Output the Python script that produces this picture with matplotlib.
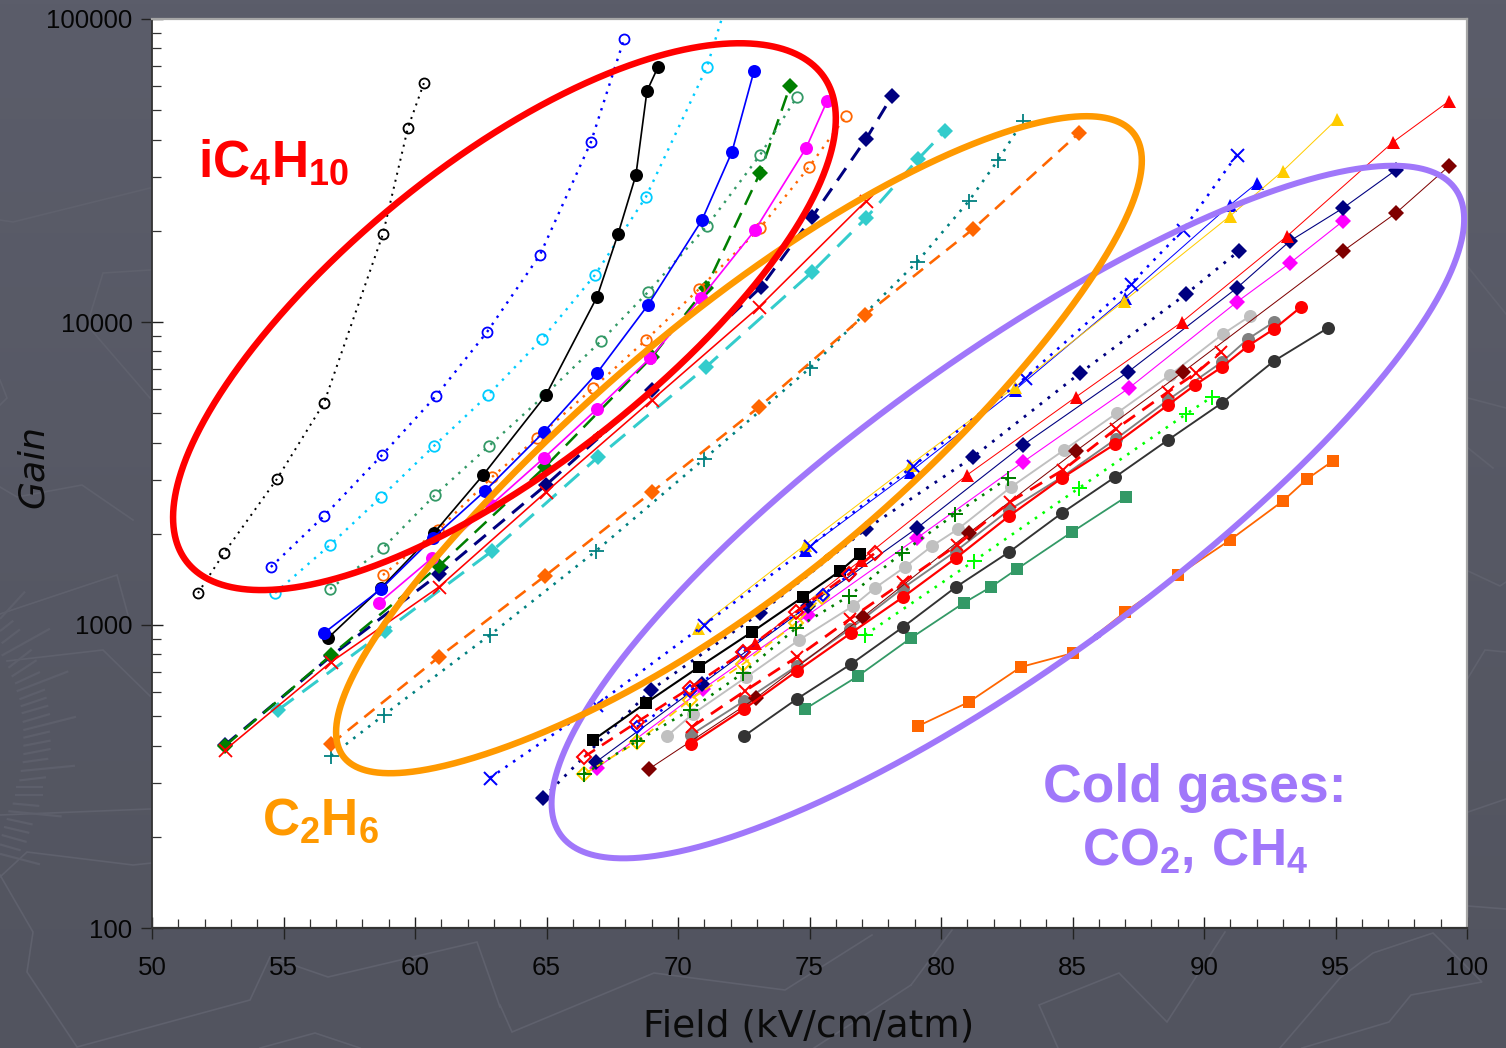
import numpy as np
import matplotlib
matplotlib.use("Agg")
import matplotlib.pyplot as plt
from matplotlib.ticker import FixedLocator, NullFormatter, FixedFormatter

W, H = 1506, 1048

# ---------- data: Field (kV/cm/atm) and Gain ----------
a_x = [51.75, 52.74, 54.75, 56.54, 58.78, 59.73, 60.34]
a_y = [1275, 1729, 3033, 5404, 19510, 43690, 61500]
b_x = [54.52, 56.54, 58.75, 60.80, 62.74, 64.75, 66.69, 67.95]
b_y = [1554, 2289, 3640, 5700, 9270, 16640, 39260, 85900]
c_x = [54.68, 56.77, 58.71, 60.72, 62.78, 64.83, 66.84, 68.78, 71.10, 71.79]
c_y = [1275, 1837, 2645, 3897, 5741, 8790, 14290, 25860, 69420, 108800]
d_x = [56.77, 58.78, 60.76, 62.81, 64.94, 67.07, 68.86, 71.10, 73.12, 74.52]
d_y = [1315, 1795, 2685, 3897, 5741, 8655, 12560, 20740, 35580, 55280]
e_x = [58.78, 60.87, 62.93, 64.64, 66.77, 68.78, 70.80, 73.12, 74.98, 76.39]
e_y = [1462, 2058, 3079, 4142, 6054, 8720, 12850, 20430, 32480, 47860]
f_x = [56.69, 58.71, 60.72, 62.59, 64.98, 66.92, 67.72, 68.40, 68.82, 69.24]
f_y = [906, 1325, 2012, 3126, 5741, 12090, 19510, 30560, 57860, 69420]
g_x = [56.54, 58.71, 60.68, 62.66, 64.90, 66.92, 68.86, 70.91, 72.05, 72.89]
g_y = [941, 1315, 1937, 2769, 4335, 6785, 11380, 21700, 36400, 67340]
h_x = [58.63, 60.65, 62.89, 64.90, 66.92, 68.94, 70.87, 72.93, 74.87, 75.67]
h_y = [1183, 1664, 2489, 3557, 5163, 7606, 12000, 20120, 37510, 53620]
i_x = [52.78, 56.81, 60.91, 64.94, 69.01, 71.06, 73.12, 74.26]
i_y = [399, 796, 1566, 3322, 7664, 12950, 31020, 60100]
j_x = [52.78, 56.81, 60.91, 64.98, 69.01, 73.16, 75.10, 77.15, 78.14]
j_y = [402, 790, 1473, 2897, 5963, 13050, 22200, 40180, 55690]
k_x = [52.78, 56.81, 60.91, 64.98, 69.01, 73.08, 77.15]
k_y = [387, 755, 1335, 2748, 5528, 11210, 25080]
l_x = [54.79, 58.86, 62.93, 66.96, 71.06, 75.10, 77.15, 79.13, 80.15]
l_y = [524, 955, 1755, 3584, 7100, 14620, 22040, 34510, 42700]
m_x = [56.81, 60.91, 64.94, 69.01, 73.08, 77.11, 81.22, 85.25]
m_y = [405, 784, 1451, 2748, 5241, 10550, 20270, 42050]
n_x = [56.81, 58.82, 62.85, 66.88, 70.99, 75.02, 79.09, 81.06, 82.17, 83.12]
n_y = [370, 505, 927, 1755, 3531, 7050, 15780, 25080, 34240, 46050]
o_x = [62.85, 66.88, 70.99, 75.02, 78.94, 83.19, 87.22, 89.20, 91.25]
o_y = [313, 544, 1000, 1823, 3347, 6534, 13350, 20120, 35580]
p_x = [74.83, 78.82, 82.81, 86.99, 90.99, 92.02]
p_y = [1769, 3198, 5963, 12000, 24320, 28760]
q_x = [70.76, 74.83, 78.82, 82.81, 86.96, 90.99, 93.00, 95.06]
q_y = [977, 1837, 3373, 6103, 11730, 22380, 31510, 46770]
r_x = [66.43, 68.44, 70.46, 72.47, 74.49, 75.48]
r_y = [322, 411, 566, 743, 1015, 1237]
s_x = [66.43, 68.44, 70.46, 72.47, 74.49, 76.50, 78.52, 80.53, 82.55]
s_y = [322, 414, 524, 694, 977, 1246, 1729, 2324, 3057]
t_x = [77.11, 81.25, 85.25, 89.32, 90.30]
t_y = [927, 1626, 2832, 4969, 5655]
u_x = [66.77, 68.78, 70.80, 72.81, 74.75, 76.16, 76.92]
u_y = [417, 553, 727, 948, 1237, 1507, 1716]
v_x = [66.43, 68.44, 70.46, 72.47, 74.49, 76.50, 77.49]
v_y = [367, 478, 620, 814, 1104, 1473, 1729]
w_x = [68.44, 70.46, 72.47, 75.51, 76.50]
w_y = [461, 606, 814, 1256, 1462]
aa_x = [72.93, 76.96, 80.99, 85.13, 89.16, 93.16, 97.19, 99.32]
aa_y = [872, 1638, 3126, 5655, 10000, 19220, 39260, 53620]
ab_x = [64.87, 68.97, 73.12, 77.15, 81.22, 85.29, 89.32, 91.33]
ab_y = [269, 610, 1095, 2074, 3584, 6785, 12370, 17150]
ac_x = [66.88, 70.91, 74.94, 79.09, 83.12, 87.11, 91.25, 93.27, 95.29, 97.30]
ac_y = [353, 639, 1155, 2090, 3927, 6839, 12950, 18510, 23780, 31750]
ad_x = [66.92, 70.95, 74.94, 79.09, 83.12, 87.15, 91.25, 93.27, 95.29]
ad_y = [337, 615, 1079, 1937, 3451, 6056, 11640, 15650, 21540]
ae_x = [68.90, 72.97, 77.03, 81.06, 85.13, 89.20, 95.29, 97.30, 99.32]
ae_y = [335, 574, 1063, 2012, 3751, 6839, 17150, 22890, 32720]
af_x = [69.58, 70.57, 72.59, 74.60, 76.65, 77.49, 78.63, 79.66, 80.65, 82.66, 84.68, 86.69, 88.71, 90.72, 91.75]
af_y = [430, 509, 673, 892, 1155, 1325, 1554, 1823, 2074, 2853, 3780, 5006, 6686, 9130, 10460]
ag_x = [70.49, 72.51, 74.52, 76.54, 78.56, 80.57, 82.59, 84.60, 86.65, 88.63, 90.68, 91.67, 92.66]
ag_y = [434, 561, 732, 970, 1325, 1755, 2396, 3079, 4110, 5528, 7379, 8790, 10000]
ah_x = [70.53, 72.55, 74.52, 76.54, 78.56, 80.61, 82.62, 84.64, 86.65, 88.63, 89.70, 90.65]
ah_y = [461, 606, 784, 1047, 1387, 1837, 2547, 3247, 4436, 5875, 6785, 7962]
ai_x = [70.49, 72.51, 74.52, 76.58, 78.56, 80.57, 82.59, 84.60, 86.62, 88.63, 89.66, 90.68, 91.67, 92.66, 93.69]
ai_y = [405, 528, 705, 941, 1237, 1664, 2289, 3057, 3957, 5322, 6196, 7100, 8333, 9482, 11210]
aj_x = [72.51, 74.52, 76.58, 78.56, 80.57, 82.59, 84.60, 86.62, 88.63, 90.68, 92.66, 94.71]
aj_y = [430, 570, 743, 985, 1335, 1741, 2342, 3079, 4079, 5404, 7434, 9554]
ak_x = [74.83, 76.84, 78.86, 80.87, 81.90, 82.89, 84.98, 87.03]
ak_y = [528, 678, 906, 1183, 1335, 1530, 2027, 2645]
al_x = [79.13, 81.06, 83.04, 85.02, 87.00, 89.01, 90.99, 93.00, 93.92, 94.90]
al_y = [464, 557, 727, 808, 1104, 1462, 1908, 2566, 3033, 3478]

x_ticks = [50, 55, 60, 65, 70, 75, 80, 85, 90, 95, 100]
y_ticks = [100, 1000, 10000, 100000]
y_labels = ["100", "1000", "10000", "100000"]

# ---------- styling ----------
DOT = (0, (1.0, 2.6))
DASH = (0, (5.0, 3.2))
DASHL = (0, (6.5, 3.6))

ORANGE = "#FF6600"; SEA = "#339966"; CYAN = "#00CCFF"; NAVY = "#000080"
TURQ = "#33CCCC"; TEAL = "#008080"; GOLD = "#FFCC00"; GREEN = "#007F00"
MAROON = "#7F0000"

plt.rcParams["font.family"] = ["Liberation Sans", "DejaVu Sans"]
plt.rcParams["mathtext.fontset"] = "custom"
plt.rcParams["mathtext.rm"] = "Liberation Sans:bold"
plt.rcParams["mathtext.it"] = "Liberation Sans:bold"
plt.rcParams["mathtext.bf"] = "Liberation Sans:bold"

fig = plt.figure(figsize=(W / 100, H / 100), dpi=100)

# slide background
bg = fig.add_axes([0, 0, 1, 1], zorder=-5)
bg.imshow(np.linspace(0, 1, 256)[:, None], aspect="auto", extent=[0, W, H, 0],
          cmap=matplotlib.colors.LinearSegmentedColormap.from_list("bgc", ["#5B5D6A", "#52545F"]))
bg.set_xlim(0, W); bg.set_ylim(H, 0); bg.axis("off")

deco = [
    [(500, 1005), (512, 1032), (654, 973), (785, 990), (872, 935)],
    [(911, 985), (952, 930)], [(911, 985), (814, 1048)],
    [(1058, 1048), (1039, 1005), (1119, 973), (1167, 1022), (1225, 932)],
    [(1280, 1048), (1340, 978), (1373, 953), (1433, 933), (1482, 982), (1411, 995), (1389, 1022), (1302, 1048)],
    [(0, 877), (27, 852), (133, 865), (152, 863)],
    [(0, 875), (33, 932), (27, 972), (77, 1047), (250, 1000), (270, 957), (328, 977), (477, 942), (500, 1007)],
    [(260, 1048), (315, 1033), (360, 1048)],
    [(0, 614), (117, 575), (128, 615)],
    [(7, 661), (103, 650), (150, 696)],
    [(0, 815), (150, 809)],
    [(1468, 267), (1506, 314)], [(1468, 398), (1506, 408)], [(1468, 448), (1493, 468)],
    [(1468, 571), (1500, 586), (1506, 582)], [(1468, 678), (1485, 650), (1506, 652)],
    [(1468, 812), (1506, 799)], [(1468, 906), (1506, 909)],
    [(0, 220), (13, 222), (150, 188)],
    [(150, 270), (103, 273), (87, 325), (150, 398)],
    [(0, 380), (7, 398), (0, 405)],
    [(0, 487), (17, 497), (82, 485), (133, 520)],
]
for seg in deco:
    px, py = zip(*seg)
    bg.plot(px, py, color="#5F616D", lw=1.2, solid_joinstyle="miter")

fan = [(0,340,75,262),(0,375,40,345),(5,410,60,370),(5,445,150,368),(25,480,95,428),
       (35,505,110,458),(45,525,120,492),(50,547,205,490),(58,570,135,542),(62,590,140,565),
       (65,610,145,588),(68,635,150,612),(70,658,228,620),(70,680,150,662),(70,703,152,688),
       (70,727,152,712),(68,750,145,740),(62,775,225,760),(58,802,138,793),(48,822,130,822),
       (45,845,128,845),(38,868,118,875),(25,890,185,905),(20,912,98,928),(12,935,88,952),
       (5,958,80,978),(0,985,62,1002),(0,1012,120,1042)]
for X1, Y1, X2, Y2 in fan:
    bg.plot([X1 / 3, X2 / 3], [500 + Y1 / 2.86, 500 + Y2 / 2.86], color="#5D5F6B", lw=1.6,
            solid_capstyle="butt")

ax = fig.add_axes([152 / W, 1 - 928 / H, (1467 - 152) / W, (928 - 19) / H], zorder=1)
ax.set_facecolor("white")
ax.set_yscale("log")
ax.set_xlim(50, 100); ax.set_ylim(100, 100000)

def series(x, y, color, marker, ms, ls="-", lw=1.5, filled=True, mew=1.5):
    ax.plot(x, y, color=color, ls=ls, lw=lw * 0.72, marker=marker,
            ms=ms * 0.72, mfc=color if filled else "none", mec=color,
            mew=(mew if not filled or marker in "x+" else 0) * 0.72,
            dash_capstyle="butt", clip_on=True)

CIRC, DIA, SQ, TRI = 13, 11.2, 12, 13
series(al_x, al_y, ORANGE, "s", SQ, lw=1.8)
series(ak_x, ak_y, SEA, "s", SQ, lw=1.8)
series(aj_x, aj_y, "#333333", "o", CIRC, lw=1.9)
series(ag_x, ag_y, "#808080", "o", CIRC, lw=1.9)
series(af_x, af_y, "#C0C0C0", "o", CIRC, lw=1.9)
series(t_x, t_y, "#00FF00", "+", 15, ls=DOT, lw=2.6, mew=2.0)
series(ae_x, ae_y, MAROON, "D", DIA, lw=1.0)
series(ad_x, ad_y, "#FF00FF", "D", DIA, lw=1.1)
series(ac_x, ac_y, NAVY, "D", DIA, lw=1.1)
series(ab_x, ab_y, NAVY, "D", DIA, ls=DOT, lw=2.8)
series(aa_x, aa_y, "#FF0000", "^", TRI, lw=1.0)
series(p_x, p_y, "#0000FF", "^", TRI, lw=1.0)
series(q_x, q_y, GOLD, "^", TRI, lw=1.0)
series(o_x, o_y, "#0000FF", "x", 13, ls=DOT, lw=2.6, mew=2.0)
series(u_x, u_y, "#000000", "s", SQ, lw=2.1)
series(r_x, r_y, GOLD, "D", 10, ls=DASH, lw=1.8, filled=False, mew=2.0)
series(s_x, s_y, GREEN, "+", 15, ls=DOT, lw=2.6, mew=2.0)
series(w_x, w_y, "#0000FF", "D", 9, ls=DOT, lw=2.6, filled=False, mew=2.0)
series(v_x, v_y, "#FF0000", "D", 10, ls=DASH, lw=2.6, filled=False, mew=2.0)
series(ah_x, ah_y, "#FF0000", "x", 12, ls=DASH, lw=2.8, mew=2.0)
series(ai_x, ai_y, "#FF0000", "o", CIRC, lw=2.2)

series(n_x, n_y, TEAL, "+", 15, ls=DOT, lw=2.6, mew=1.8)
series(m_x, m_y, ORANGE, "D", DIA, ls=DASH, lw=2.6)
series(l_x, l_y, TURQ, "D", DIA, ls=DASHL, lw=3.0)
series(j_x, j_y, NAVY, "D", DIA, ls=DASH, lw=3.0)
series(i_x, i_y, GREEN, "D", DIA, ls=DASHL, lw=2.5)
series(e_x, e_y, ORANGE, "o", 10.5, ls=DOT, lw=2.4, filled=False, mew=1.8)
series(d_x, d_y, SEA, "o", 10.5, ls=DOT, lw=2.4, filled=False, mew=1.8)
series(c_x, c_y, CYAN, "o", 10.5, ls=DOT, lw=2.4, filled=False, mew=1.8)
series(b_x, b_y, "#0000FF", "o", 10, ls=DOT, lw=2.4, filled=False, mew=1.8)
series(a_x, a_y, "#000000", "o", 10, ls=DOT, lw=2.0, filled=False, mew=1.8)
series(f_x, f_y, "#000000", "o", CIRC, lw=1.7)
series(g_x, g_y, "#0000FF", "o", CIRC, lw=1.7)
series(h_x, h_y, "#FF00FF", "o", CIRC, lw=1.7)
series(k_x, k_y, "#FF0000", "x", 13, lw=1.6, mew=1.8)

# axis cosmetics
ax.xaxis.set_major_locator(FixedLocator(x_ticks))
ax.xaxis.set_minor_locator(FixedLocator([v for v in range(50, 101) if v % 5]))
ax.yaxis.set_major_locator(FixedLocator(y_ticks))
ax.yaxis.set_major_formatter(FixedFormatter(y_labels))
ax.yaxis.set_minor_locator(FixedLocator([m * 10 ** e for e in (2, 3, 4) for m in range(2, 10)]))
ax.yaxis.set_minor_formatter(NullFormatter())
ax.xaxis.set_minor_formatter(NullFormatter())
ax.tick_params(which="major", direction="inout", length=16, width=1.0, color="#222222",
               labelsize=18.6, labelcolor="#050505")
ax.tick_params(which="minor", direction="in", length=6.5, width=0.9, color="#333333")
ax.tick_params(axis="x", which="major", pad=12)
ax.tick_params(axis="y", which="major", pad=6)
for side, col, lw in (("left", "#333333", 1.3), ("bottom", "#333333", 1.6),
                      ("top", "#A6A6A6", 1.6), ("right", "#A6A6A6", 1.6)):
    ax.spines[side].set_color(col)
    ax.spines[side].set_linewidth(lw)

# overlay in pixel coordinates
ov = fig.add_axes([0, 0, 1, 1], zorder=2)
ov.set_xlim(0, W); ov.set_ylim(H, 0); ov.axis("off"); ov.patch.set_alpha(0)

def blob(points, color, lw, order=4):
    pts = np.array(points + [points[0]], float)
    seg = np.hypot(*np.diff(pts, axis=0).T)
    cum = np.r_[0, np.cumsum(seg)] / seg.sum()
    tt = np.linspace(0, 1, 1200, endpoint=False)
    r = np.column_stack([np.interp(tt, cum, pts[:, 0]), np.interp(tt, cum, pts[:, 1])])
    c = r.mean(axis=0)
    vals, vecs = np.linalg.eigh(np.cov((r - c).T))
    uv = (r - c) @ vecs
    scale = np.abs(uv).max(axis=0)
    nv = uv / scale
    ang = np.arctan2(nv[:, 1], nv[:, 0])
    rad = np.hypot(nv[:, 0], nv[:, 1])
    def basis(t):
        cols = [np.ones_like(t)]
        for k in range(1, order + 1):
            cols += [np.cos(k * t), np.sin(k * t)]
        return np.column_stack(cols)
    coef = np.linalg.lstsq(basis(ang), rad, rcond=None)[0]
    a2 = np.linspace(-np.pi, np.pi, 1441)
    r2 = basis(a2) @ coef
    out = np.column_stack([r2 * np.cos(a2), r2 * np.sin(a2)]) * scale
    xy = out @ vecs.T + c
    ov.plot(xy[:, 0], xy[:, 1], color=color, lw=lw * 0.72, solid_joinstyle="round")

blob_red = [(240, 360), (387, 207), (483, 137), (613, 70), (743, 38), (800, 50), (830, 83), (835, 123),
            (817, 197), (783, 243), (733, 317), (627, 413), (580, 447), (447, 538), (347, 577),
            (257, 593), (190, 568), (170, 520), (180, 463)]
blob_orange = [(340, 723), (353, 677), (413, 577), (497, 493), (630, 360), (783, 247), (893, 180),
               (1023, 123), (1083, 113), (1127, 127), (1143, 160), (1133, 197), (1100, 267),
               (1043, 350), (1000, 397), (867, 520), (760, 617), (630, 690), (447, 770),
               (380, 781), (347, 763)]
blob_purple = [(548, 810), (560, 760), (580, 713), (650, 625), (750, 520), (850, 437), (950, 362),
               (1100, 270), (1233, 203), (1367, 165), (1393, 162), (1443, 177), (1465, 217),
               (1457, 277), (1337, 430), (1250, 517), (1180, 573), (1077, 650), (960, 728),
               (900, 763), (827, 800), (700, 848), (625, 861), (570, 845)]
blob(blob_purple, "#A077FA", 6)
blob(blob_orange, "#FF9900", 6.5)
blob(blob_red, "#FF0000", 6.5)

ov.text(198, 177, r"$\mathrm{iC_4H_{10}}$", color="#FF0000", fontsize=37, ha="left", va="baseline")
ov.text(262, 835, r"$\mathrm{C_2H_6}$", color="#FF9900", fontsize=37, ha="left", va="baseline")
ov.text(1195, 802, "Cold gases:", color="#A077FA", fontsize=38.5, fontweight="bold", ha="center", va="baseline")
ov.text(1195, 866, r"$\mathrm{CO_2,\,CH_4}$", color="#A077FA", fontsize=37, ha="center", va="baseline")

ov.text(809, 1027, "Field (kV/cm/atm)", color="#0A0A0A", fontsize=27, family=["DejaVu Sans"],
        ha="center", va="center")
ov.text(33, 467, "Gain", color="#0A0A0A", fontsize=26, family=["DejaVu Sans"], style="italic",
        rotation=90, ha="center", va="center")

fig.savefig("out.png", dpi=100)
